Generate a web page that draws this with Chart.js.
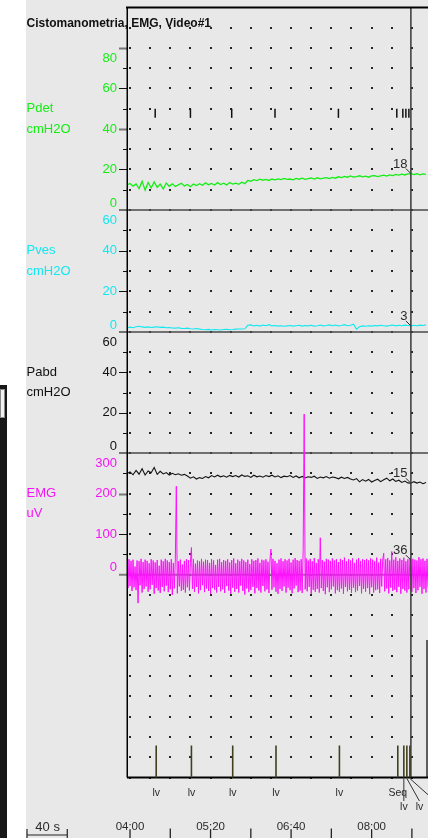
<!DOCTYPE html>
<html>
<head>
<meta charset="utf-8">
<title>Cistomanometria, EMG, Video#1</title>
<script src="https://cdn.jsdelivr.net/npm/chart.js@4.4.1/dist/chart.umd.min.js"></script>
<style>
  html, body { margin: 0; padding: 0; background: #fff; overflow: hidden; }
  canvas { display: block; }
</style>
</head>
<body>
<canvas id="trace" width="428" height="838"></canvas>
<script>
// ---- recording data (time in seconds) ----
const pressStart = 237, pressStep = 3;   // pressure channels sample clock
const emgStart = 237, emgStep = 1;       // EMG sample clock

const pdet = [
  12.4, 13.1, 11.8, 12.9, 10.6, 14.2, 9.8, 13.6, 10.9, 13.9, 11.2, 12.8, 10.4, 13.3, 11.7,
  12.9, 11.6, 12.4, 13.2, 11.9, 12.6, 11.5, 12.8, 12.1, 13.0, 12.2, 13.4, 12.5, 13.1, 12.3,
  13.5, 12.6, 13.2, 12.4, 13.6, 12.8, 13.3, 12.7, 13.7, 13.0,
  14.6, 14.2, 15.0, 14.5, 15.2, 14.7, 15.1, 14.6, 15.3, 14.9, 15.4, 15.0, 15.6, 15.1, 15.3,
  14.9, 15.6, 15.2, 15.7, 15.1, 15.5, 15.8, 15.3, 15.9, 15.4, 15.7, 16.0, 15.5, 16.1, 15.7,
  16.4, 16.0, 16.6, 16.2, 16.8, 16.3, 16.5, 16.9, 16.4, 16.7, 16.2, 16.8, 17.0, 16.5, 16.9,
  17.2, 16.7, 17.3,
  17.0, 17.6, 17.2, 17.7, 17.3, 17.8, 18.0, 17.5, 17.9, 17.4, 17.8, 17.6
];
const pves = [
  2.0, 2.4, 2.1, 2.6, 2.8, 2.5, 2.3, 2.5, 2.2, 2.4, 2.6, 2.3, 2.4, 2.1, 2.2,
  2.0, 1.9, 2.1, 1.8, 1.7, 1.9, 1.6, 1.5, 1.7, 1.4,
  1.2, 1.1, 1.3, 1.0, 1.2, 1.1, 1.0, 1.2, 1.3, 1.1, 1.2,
  1.4, 1.5, 1.5, 1.6, 3.3,
  3.5, 3.0, 3.3, 2.9, 3.4, 3.1, 3.6, 3.0, 3.2, 2.9,
  3.1, 2.8, 3.0, 3.2, 2.9, 3.1, 3.3, 2.9, 3.2, 3.0,
  3.3, 2.9, 3.1, 3.4, 3.0, 3.2, 3.5, 3.1, 3.4, 3.0,
  3.2, 3.6, 3.1, 3.3, 3.8, 1.4, 2.6, 3.0, 2.8, 3.1,
  2.9, 3.2, 3.0, 3.3, 3.1, 2.9, 3.2, 3.4, 3.0, 3.3,
  3.1, 3.4, 3.2, 3.0, 3.3, 3.1, 3.4, 3.2, 3.5
];
const pabd = [
  -10.2, -9.4, -10.8, -8.6, -10.5, -7.8, -10.9, -8.9, -9.8, -7.2, -10.6, -9.1, -10.4, -9.7, -10.9,
  -10.1, -10.8, -10.3, -11.0, -10.6, -11.4, -12.5, -11.8, -12.9, -12.2,
  -12.6, -11.7, -12.3, -11.2, -11.9, -11.0, -11.8, -11.3, -12.0, -11.1,
  -11.7, -11.2, -11.9, -10.9, -11.6, -11.3, -12.1, -11.0, -11.8, -11.4,
  -12.0, -11.2, -11.7, -11.0, -11.9, -11.3, -12.2, -11.5, -11.8, -11.2,
  -12.1, -11.4, -12.3, -11.6, -12.4, -11.8, -12.1, -11.5, -12.6, -11.9,
  -12.3, -11.7, -12.5, -11.9, -12.2, -12.8, -12.0, -12.6, -12.1, -12.9,
  -13.4, -12.7, -14.3, -13.2, -14.0, -13.1, -14.4, -13.6, -13.0, -14.2,
  -13.3, -12.5, -13.8, -12.9, -14.1, -13.5, -14.6, -13.9, -14.8, -15.0,
  -14.2, -14.9, -14.4, -15.2, -14.6
];
const emg = [
  36, -33, 38, -28, 34, -40, 37, -31, 20, -38, 35, -70, 33, -26, 39, -44, 31, -35, 37, -29,
  34, -42, 28, -36, 38, -25, 35, -47, 30, -33, 36, -39, 22, -45, 37, -30, 33, -41, 39, -27,
  35, -43, 31, -36, 38, -50, 29, -34, 36, 218, -46, 33, -29, 37, -40, 25, -37, 34, -44, 38,
  -31, 36, -39, 30, 67, -35, 38, -42, 27, -30, 35, -46, 33, -38, 39, -26, 32, -43, 37, -34,
  36, -40, 29, -48, 38, -33, 35, -37, 24, -44, 37, -30, 39, -41, 31, -36, 36, -45, 34, -28,
  38, -39, 30, -47, 36, -32, 40, -42, 28, -35, 37, -44, 33, -27, 39, -40, 35, -49, 31, -34,
  37, -43, 26, -38, 38, -30, 34, -46, 36, -33, 40, -39, 29, -44, 37, -28, 35, -41, 38, -36,
  32, -45, 36, 63, -37, 39, -31, 34, -42, 28, -47, 37, -35, 40, -40, 33, -29, 38, -44, 35,
  -32, 39, -38, 30, -46, 37, -34, 41, -27, 36, -43, 34, -39, 38, -45, 60, 396, -36, 40, -41,
  35, -30, 39, -47, 33, -37, 41, -42, 29, -35, 38, -44, 91, -33, 36, -40, 32, -48, 39, -31,
  37, -43, 34, -36, 40, -29, 35, -46, 38, -38, 31, -42, 39, -34, 36, -47, 42, -30, 33, -41,
  38, -37, 35, -45, 40, -32, 29, -43, 37, -39, 41, -28, 34, -46, 38, -35, 36, -42, 39, -33,
  35, -48, 40, -31, 37, -44, 33, -38, 42, -36, 30, -45, 39, -29, 36, 53, -41, 38, -34, 41,
  -46, 35, -32, 57, -40, 37, -37, 43, -43, 34, -30, 40, -47, 36, -35, 42, -39, 33, -44, 38,
  -36, 41, 36, -42, 39, -33, 37, -45, 35, -38, 43, -30, 38, -47, 40, -35, 34, -44, 39, -32
];

// event markers
const eventTimes = [266, 301, 342, 385, 448, 506, 512, 515, 518];
const eventNames = ['lv', 'lv', 'lv', 'lv', 'lv', 'Seq', 'lv', 'lv', 'lv'];
const cursorTime = 519;

// time axis
const timeMajorTicks = [240, 320, 400, 480];
const timeMinorTicks = [280, 360, 440, 520];
const scaleBarSeconds = 40;
const gridStart = 240, gridStep = 20;

// channel tick labels
const pdetLabels = [80, 60, 40, 20, 0];
const pvesLabels = [60, 40, 20, 0];
const pabdLabels = [60, 40, 20, 0];
const emgLabels = [300, 200, 100, 0];

// ---- channel layout ----
const FONT = '"Liberation Sans", Arial, Helvetica, sans-serif';
const AREA_TOP = 7.5, AREA_BOTTOM = 777.5, AREA_LEFT = 127, CANVAS_H = 838;

const panels = [
  { id: 'yPdet', names: ['Pdet', 'cmH2O'], nameAt: [50, 40], color: '#14ee14',
    min: 0, max: 100, top: 7.5, bottom: 210, dotStep: 10,
    labels: pdetLabels, major: [80, 60, 40, 20], minor: [70, 50, 30, 10], grey: [80, 40] },
  { id: 'yPves', names: ['Pves', 'cmH2O'], nameAt: [40, 30], color: '#12e8f0',
    min: 0, max: 60, top: 210, bottom: 332, dotStep: 10,
    labels: pvesLabels, major: [40, 20], minor: [50, 30, 10], grey: [] },
  { id: 'yPabd', names: ['Pabd', 'cmH2O'], nameAt: [40, 30], color: '#111111',
    min: 0, max: 60, top: 332, bottom: 453, dotStep: 10,
    labels: pabdLabels, major: [40, 20], minor: [50, 30, 10], grey: [] },
  { id: 'yEmg', names: ['EMG', 'uV'], nameAt: [200, 150], color: '#f614f6',
    min: -500, max: 300, top: 453, bottom: AREA_BOTTOM, dotStep: 50, zero: true,
    labels: emgLabels, major: [200, 100], minor: [250, 150, 50], grey: [200] }
];

// each channel axis spans the whole plot; its range is stretched so the
// channel's own band lands between `top` and `bottom`
function axisFor(p) {
  const ppu = (p.bottom - p.top) / (p.max - p.min);
  return {
    type: 'linear', display: false,
    min: p.min - (AREA_BOTTOM - p.bottom) / ppu,
    max: p.max + (p.top - AREA_TOP) / ppu
  };
}

const mmss = s => String(Math.floor(s / 60)).padStart(2, '0') + ':' + String(s % 60).padStart(2, '0');
const series = (arr, t0, dt) => arr.map((v, i) => ({ x: t0 + i * dt, y: v }));
const valueAt = (arr, t0, dt, t) => arr[Math.round((t - t0) / dt)];

const channelData = {
  yPdet: [pdet, pressStart, pressStep],
  yPves: [pves, pressStart, pressStep],
  yPabd: [pabd, pressStart, pressStep],
  yEmg: [emg, emgStart, emgStep]
};

function line(ctx, x1, y1, x2, y2) {
  ctx.beginPath(); ctx.moveTo(x1, y1); ctx.lineTo(x2, y2); ctx.stroke();
}

const polygraph = {
  id: 'polygraph',
  beforeDraw(chart) {
    const { ctx, width, height } = chart;
    ctx.save();
    ctx.fillStyle = '#ffffff';
    ctx.fillRect(0, 0, width, height);
    ctx.fillStyle = '#e8e8e8';
    ctx.fillRect(26, 0, width - 26, height);
    // dark window strip at the far left
    ctx.fillStyle = '#171717';
    ctx.fillRect(0, 385, 7, height - 385);
    ctx.fillStyle = '#f2f2f2';
    ctx.fillRect(0, 389, 5, 29);
    ctx.strokeStyle = '#8a8a8a'; ctx.lineWidth = 1;
    ctx.strokeRect(0.5, 389.5, 4, 28);
    ctx.restore();
  },
  beforeDatasetsDraw(chart) {
    const { ctx, chartArea: a, scales } = chart;
    const xs = scales.x;
    ctx.save();
    // dotted grid
    ctx.fillStyle = '#262626';
    for (const p of panels) {
      const s = scales[p.id];
      for (let v = p.max - p.dotStep; v >= p.min; v -= p.dotStep) {
        const py = Math.round(s.getPixelForValue(v));
        for (let t = gridStart; t <= xs.max; t += gridStep) {
          const px = Math.round(xs.getPixelForValue(t));
          ctx.fillRect(px - 1, py - 1, 2, 2);
        }
      }
    }
    // channel baselines / separators and the tick marks on the left axis
    for (const p of panels) {
      const s = scales[p.id];
      const y0 = s.getPixelForValue(0);
      if (p.zero) {
        ctx.strokeStyle = '#7c7c7c'; ctx.lineWidth = 2;
      } else {
        ctx.strokeStyle = '#4a4a4a'; ctx.lineWidth = 1.6;
      }
      line(ctx, 119, y0, a.right, y0);
      for (const v of p.major) {
        const y = Math.round(s.getPixelForValue(v)) + 0.5;
        if (p.grey.includes(v)) { ctx.strokeStyle = '#777'; ctx.lineWidth = 2; }
        else { ctx.strokeStyle = '#111'; ctx.lineWidth = 1; }
        line(ctx, 119, y, a.left, y);
      }
      ctx.strokeStyle = '#111'; ctx.lineWidth = 1;
      for (const v of p.minor) {
        const y = Math.round(s.getPixelForValue(v)) + 0.5;
        line(ctx, 123, y, a.left, y);
      }
    }
    ctx.restore();
  },
  afterDatasetsDraw(chart) {
    const { ctx, chartArea: a, scales } = chart;
    const xs = scales.x;
    const cx = xs.getPixelForValue(cursorTime);
    ctx.save();

    // event ticks in the Pdet channel
    ctx.strokeStyle = '#111'; ctx.lineWidth = 1.5;
    const sd = scales.yPdet;
    for (const t of eventTimes) {
      const x = xs.getPixelForValue(t) - 1;
      line(ctx, x, sd.getPixelForValue(50), x, sd.getPixelForValue(45.5));
    }

    // cursor
    ctx.strokeStyle = '#383838'; ctx.lineWidth = 1.5;
    line(ctx, cx, a.top, cx, a.bottom);

    // frame
    ctx.strokeStyle = '#000'; ctx.lineWidth = 2;
    line(ctx, a.left - 1, a.top, a.right, a.top);
    line(ctx, a.left, a.bottom, a.right, a.bottom);
    ctx.lineWidth = 1.5;
    line(ctx, a.left + 0.25, a.top, a.left + 0.25, a.bottom);
    ctx.lineWidth = 1.2;
    line(ctx, a.right - 1, 640, a.right - 1, a.bottom);

    // event markers at the foot of the plot, with labels
    ctx.font = '10.5px ' + FONT;
    ctx.textAlign = 'center'; ctx.textBaseline = 'middle';
    const rows = [[], []];
    const rowY = [793, 807];
    eventTimes.forEach((t, i) => {
      const x = xs.getPixelForValue(t);
      ctx.strokeStyle = '#40401f'; ctx.lineWidth = 1.6;
      line(ctx, x, 745.5, x, a.bottom);
      const w = ctx.measureText(eventNames[i]).width;
      const free = (r, c) => rows[r].every(o => c + w / 2 + 1 < o.l || c - w / 2 - 1 > o.r);
      let r = 0, c = x;
      if (!free(0, c)) {
        r = 1;
        if (!free(1, c)) c = Math.max(...rows[1].map(o => o.r)) + w / 2 + 8;
      }
      rows[r].push({ l: c - w / 2, r: c + w / 2 });
      if (r > 0) {
        ctx.strokeStyle = '#333'; ctx.lineWidth = 1;
        line(ctx, x, a.bottom + 1, c, rowY[r] - 6);
      }
      ctx.fillStyle = '#2b2b2b';
      ctx.fillText(eventNames[i], c, rowY[r]);
    });

    // readouts at the cursor
    ctx.font = '13px ' + FONT;
    ctx.textAlign = 'right'; ctx.textBaseline = 'middle';
    for (const p of panels) {
      const [arr, t0, dt] = channelData[p.id];
      const v = valueAt(arr, t0, dt, cursorTime);
      const py = scales[p.id].getPixelForValue(v);
      ctx.fillStyle = '#2a2a2a';
      ctx.fillText(String(Math.round(v)), cx - 3.5, py - 9.5);
      ctx.strokeStyle = '#2a2a2a'; ctx.lineWidth = 1;
      line(ctx, cx - 5, py - 5, cx - 0.5, py - 0.5);
    }

    // channel scale numbers and names
    for (const p of panels) {
      const s = scales[p.id];
      ctx.fillStyle = p.color;
      ctx.textAlign = 'right';
      p.labels.forEach((v, i) => {
        let y = s.getPixelForValue(v);
        if (i === 0) y += 10.5;
        else if (i === p.labels.length - 1) y -= 7;
        ctx.fillText(String(v), 117, y);
      });
      ctx.textAlign = 'left';
      p.names.forEach((n, i) => ctx.fillText(n, 26.5, s.getPixelForValue(p.nameAt[i])));
    }

    // title
    ctx.fillStyle = '#111';
    ctx.font = 'bold 12px ' + FONT;
    ctx.textAlign = 'left';
    ctx.fillText('Cistomanometria, EMG, Video#1', 26.5, 23.5);

    // time axis under the plot
    ctx.font = '11.5px ' + FONT;
    ctx.textAlign = 'center';
    ctx.fillStyle = '#2b2b2b';
    ctx.strokeStyle = '#222'; ctx.lineWidth = 1.3;
    for (const t of timeMajorTicks) {
      const x = xs.getPixelForValue(t);
      ctx.fillText(mmss(t), x, 827);
      line(ctx, x, 830, x, CANVAS_H);
    }
    for (const t of timeMinorTicks) {
      const x = xs.getPixelForValue(t);
      line(ctx, x, 828.5, x, CANVAS_H);
    }
    // 40 s scale bar
    const barW = xs.getPixelForValue(xs.min + scaleBarSeconds) - xs.getPixelForValue(xs.min);
    const bx = 27;
    ctx.lineWidth = 1.2;
    line(ctx, bx, 835, bx + barW, 835);
    line(ctx, bx, 829, bx, CANVAS_H);
    line(ctx, bx + barW, 829, bx + barW, CANVAS_H);
    ctx.font = '13px ' + FONT;
    ctx.fillText(scaleBarSeconds + ' s', bx + barW / 2 + 0.5, 827);

    ctx.restore();
  }
};

const scales = { x: { type: 'linear', display: false, min: 237, max: 536 } };
for (const p of panels) scales[p.id] = axisFor(p);

new Chart(document.getElementById('trace'), {
  type: 'line',
  data: {
    datasets: [
      { label: 'EMG', data: series(emg, emgStart, emgStep), yAxisID: 'yEmg',
        borderColor: '#ff10ff', borderWidth: 1, order: 0 },
      { label: 'Pabd', data: series(pabd, pressStart, pressStep), yAxisID: 'yPabd',
        borderColor: '#111111', borderWidth: 1.1, order: 1 },
      { label: 'Pves', data: series(pves, pressStart, pressStep), yAxisID: 'yPves',
        borderColor: '#12e8f0', borderWidth: 1.1, order: 2 },
      { label: 'Pdet', data: series(pdet, pressStart, pressStep), yAxisID: 'yPdet',
        borderColor: '#14ee14', borderWidth: 1.3, order: 3 }
    ]
  },
  options: {
    responsive: false,
    animation: false,
    devicePixelRatio: 1,
    layout: { padding: { left: AREA_LEFT, right: 0, top: AREA_TOP, bottom: CANVAS_H - AREA_BOTTOM } },
    elements: { point: { radius: 0 }, line: { tension: 0 } },
    plugins: { legend: { display: false }, tooltip: { enabled: false }, title: { display: false } },
    scales
  },
  plugins: [polygraph]
});
</script>
</body>
</html>
